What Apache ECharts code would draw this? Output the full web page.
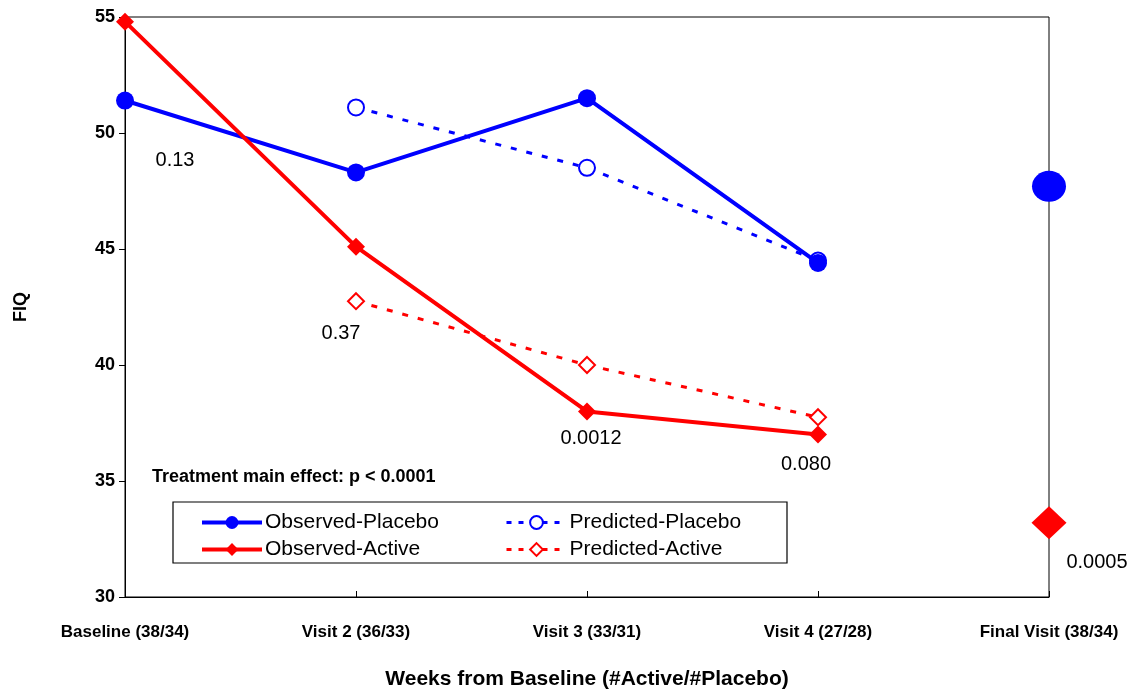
<!DOCTYPE html>
<html><head><meta charset="utf-8">
<script src="https://cdn.jsdelivr.net/npm/echarts@6/dist/echarts.min.js"></script>
<style>html,body{margin:0;padding:0;background:#fff}#c{width:1141px;height:692px}</style>
</head><body><div id="c"></div>
<script>
const categories = ['Baseline (38/34)', 'Visit 2 (36/33)', 'Visit 3 (33/31)', 'Visit 4 (27/28)', 'Final Visit (38/34)'];
const obsPlacebo = [51.4, 48.3, 51.5, 44.4, null];
const obsActive = [54.8, 45.1, 38.0, 37.0, null];
const predPlacebo = [null, 51.1, 48.5, 44.5, null];
const predActive = [null, 42.75, 40.0, 37.75, null];
const finalPlacebo = [null, null, null, null, 47.7];
const finalActive = [null, null, null, null, 33.2];
const pValues = ['0.13', '0.37', '0.0012', '0.080', '0.0005'];
const yTicks = [30, 35, 40, 45, 50, 55];

const NARROW = "'Liberation Sans Narrow','Arial Narrow','Liberation Sans',Arial,sans-serif";
const SANS = "'Liberation Sans',Arial,sans-serif";
const BLUE = '#0000FF', RED = '#FF0000';

const anchors = [[0, obsPlacebo[0]], [1, predActive[1]], [2, obsActive[2]], [3, obsActive[3]], [4, finalActive[4]]];
const offsets = [[50, 60], [-15, 32], [4, 27], [-12, 30], [48, 40]];

const chart = echarts.init(document.getElementById('c'), null, {renderer: 'canvas'});
chart.setOption({
  animation: false,
  backgroundColor: '#fff',
  grid: {left: 125, right: 92, top: 17, bottom: 95, show: true, borderColor: '#000', borderWidth: 1,
    containLabel: false, outerBoundsMode: 'none'},
  title: {text: 'Treatment main effect: p < 0.0001', left: 152, top: 468, padding: 0,
    textStyle: {fontFamily: NARROW, fontWeight: 'bold', fontSize: 18, color: '#000'}},
  legend: [
    {data: ['Observed-Placebo', 'Observed-Active'], orient: 'vertical', left: 200, top: 512, itemWidth: 60, itemHeight: 16, itemGap: 6, padding: 0,
      lineStyle: {width: 4},
      textStyle: {fontFamily: NARROW, fontSize: 21, color: '#000', padding: [0,0,0,-2]}},
    {data: ['Predicted-Placebo', 'Predicted-Active'], orient: 'vertical', left: 505, top: 512, itemWidth: 60, itemHeight: 16, itemGap: 6, padding: 0,
      lineStyle: {width: 3, type: [5, 7]},
      textStyle: {fontFamily: NARROW, fontSize: 21, color: '#000', padding: [0,0,0,-2]}}
  ],
  graphic: [{type: 'rect', z: 3, shape: {x: 173, y: 502, width: 614, height: 61}, style: {fill: 'none', stroke: '#000', lineWidth: 1.2}}],
  xAxis: {
    type: 'category', data: categories, boundaryGap: false,
    name: 'Weeks from Baseline (#Active/#Placebo)', nameLocation: 'middle', nameGap: 72,
    nameTextStyle: {fontFamily: NARROW, fontWeight: 'bold', fontSize: 21, color: '#000'},
    axisLine: {lineStyle: {color: '#000', width: 1}},
    axisTick: {inside: true, length: 6, alignWithLabel: true, lineStyle: {color: '#000'}},
    axisLabel: {margin: 27, fontFamily: NARROW, fontWeight: 'bold', fontSize: 17, color: '#000', interval: 0},
    splitLine: {show: false}
  },
  yAxis: {
    type: 'value', min: yTicks[0], max: yTicks[yTicks.length - 1], interval: 5,
    name: 'FIQ', nameLocation: 'middle', nameGap: 95, nameRotate: 90,
    nameTextStyle: {fontFamily: SANS, fontWeight: 'bold', fontSize: 18, color: '#000'},
    axisLine: {show: true, lineStyle: {color: '#000', width: 1}},
    axisTick: {show: true, inside: false, length: 6, lineStyle: {color: '#000'}},
    axisLabel: {margin: 10, fontFamily: NARROW, fontWeight: 'bold', fontSize: 18, color: '#000'},
    splitLine: {show: false}
  },
  series: [
    {name: 'Observed-Placebo', type: 'line', data: obsPlacebo, symbol: 'circle', symbolSize: 18, z: 3,
      itemStyle: {color: BLUE}, lineStyle: {color: BLUE, width: 4}},
    {name: 'Observed-Active', type: 'line', data: obsActive, symbol: 'diamond', symbolSize: 18, z: 4,
      itemStyle: {color: RED}, lineStyle: {color: RED, width: 4}},
    {name: 'Predicted-Placebo', type: 'line', data: predPlacebo, symbol: 'emptyCircle', symbolSize: 16, z: 2,
      itemStyle: {color: BLUE, borderColor: BLUE, borderWidth: 1.5}, lineStyle: {color: BLUE, width: 3, type: [6, 10]}},
    {name: 'Predicted-Active', type: 'line', data: predActive, symbol: 'emptyDiamond', symbolSize: 16, z: 2,
      itemStyle: {color: RED, borderColor: RED, borderWidth: 1.5}, lineStyle: {color: RED, width: 3, type: [6, 10]}},
    {name: 'Final-Placebo', type: 'scatter', data: finalPlacebo, symbol: 'circle', symbolSize: [34, 31], z: 5,
      itemStyle: {color: BLUE, opacity: 1}},
    {name: 'Final-Active', type: 'scatter', data: finalActive, symbol: 'diamond', symbolSize: [35, 33], z: 5,
      itemStyle: {color: RED, opacity: 1}},
    {name: 'p-values', type: 'scatter', symbolSize: 0, z: 6, silent: true, itemStyle: {opacity: 1},
      data: anchors.map((a, i) => ({value: a, label: {show: true, position: 'inside', offset: offsets[i], formatter: pValues[i],
        fontFamily: SANS, fontSize: 20, color: '#000', opacity: 1}}))}
  ]
});
</script></body></html>
